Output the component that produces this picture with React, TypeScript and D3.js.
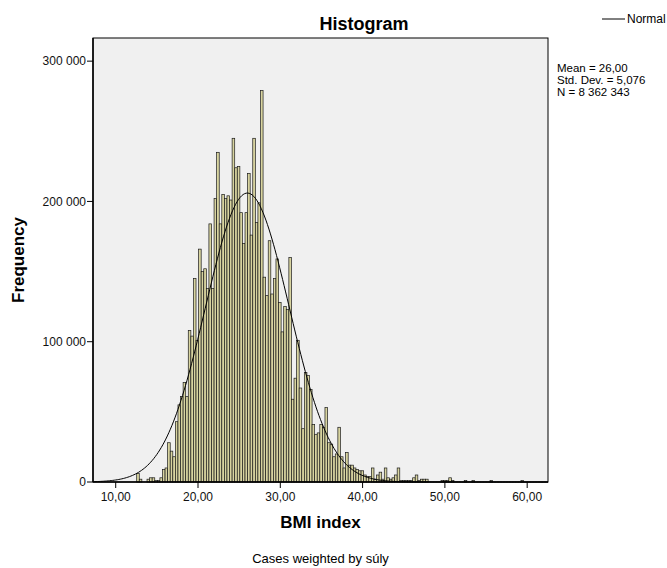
import * as d3 from "d3";

// histogram bins (BMI), counts in thousands
const BIN_START = 12.55;
const BIN_WIDTH = 0.3134;
const COUNTS_K = [
  6, 2, 0, 0, 2, 3, 3, 1, 1, 3,
  9, 10, 28, 22, 18, 43, 55, 61, 71, 61,
  108, 104, 145, 101, 166, 150, 152, 138, 184, 138,
  202, 235, 184, 205, 202, 204, 201, 245, 224, 225,
  192, 170, 192, 220, 176, 245, 185, 199, 279, 146,
  133, 172, 134, 145, 159, 128, 107, 125, 123, 160,
  59, 74, 101, 67, 38, 78, 76, 66, 41, 34,
  35, 41, 39, 53, 28, 27, 18, 20, 39, 18,
  10, 21, 12, 12, 10, 9, 8, 8, 5, 4,
  4, 10, 2, 5, 7, 2, 10, 3, 2, 3,
  5, 10, 1, 1, 1, 1, 1, 3, 5, 1,
  2, 2, 2, 0, 0, 0, 0, 0, 1, 1,
  1, 3, 1, 0, 0, 0, 0, 1, 0, 0,
  1, 0, 0, 0, 0, 0, 0, 1, 0, 0,
  0, 0, 0, 0, 0, 0, 0, 0, 0, 1,
];

const X_TICKS = [10, 20, 30, 40, 50, 60];
const Y_TICKS = [0, 100000, 200000, 300000];

const MEAN = 26.0;
const SD = 5.076;
const N = 8362343;
const STATS = ["Mean = 26,00", "Std. Dev. = 5,076", "N = 8 362 343"];

const W = 667;
const H = 568;
const PLOT = { left: 93, right: 548, top: 38, bottom: 482 };
const FONT = "Arial, 'Liberation Sans', sans-serif";

const huLocale = d3.formatLocale({
  decimal: ",",
  thousands: "\u00a0",
  grouping: [3],
  currency: ["", ""],
});

export default function App() {
  const x = d3.scaleLinear().domain([7.24, 62.53]).range([PLOT.left, PLOT.right]);
  const y = d3.scaleLinear().domain([0, 316500]).range([PLOT.bottom, PLOT.top]);

  const bins = COUNTS_K.map((c, i) => ({
    x0: BIN_START + i * BIN_WIDTH,
    x1: BIN_START + (i + 1) * BIN_WIDTH,
    v: c * 1000,
  })).filter((b) => b.v > 0);

  // fitted normal curve
  const [d0, d1] = x.domain();
  const curvePts = d3.range(0, 301).map((k) => {
    const v = d0 + ((d1 - d0) * k) / 300;
    const dens =
      (N * BIN_WIDTH) / (SD * Math.sqrt(2 * Math.PI)) *
      Math.exp(-((v - MEAN) ** 2) / (2 * SD * SD));
    return [v, dens] as [number, number];
  });
  const line = d3
    .line<[number, number]>()
    .x((d) => x(d[0]))
    .y((d) => y(d[1]));

  const fmtX = huLocale.format(".2f");
  const fmtY = huLocale.format(",d");

  return (
    <svg
      width={W}
      height={H}
      style={{ position: "absolute", left: 0, top: 0, background: "#fff" }}
      fontFamily={FONT}
    >
      <rect
        x={PLOT.left}
        y={PLOT.top}
        width={PLOT.right - PLOT.left}
        height={PLOT.bottom - PLOT.top}
        fill="#f0f0f0"
      />
      <g>
        {bins.map((b, i) => (
          <rect
            key={i}
            x={x(b.x0)}
            y={y(b.v)}
            width={x(b.x1) - x(b.x0)}
            height={y(0) - y(b.v)}
            fill="#d8d4a0"
            stroke="#1a1a1a"
            strokeWidth={0.7}
          />
        ))}
      </g>
      <path d={line(curvePts) ?? ""} fill="none" stroke="#000" strokeWidth={1} />
      <rect
        x={PLOT.left}
        y={PLOT.top}
        width={PLOT.right - PLOT.left}
        height={PLOT.bottom - PLOT.top}
        fill="none"
        stroke="#000"
        strokeWidth={1}
      />
      {/* x axis */}
      <line x1={PLOT.left} x2={PLOT.right} y1={PLOT.bottom} y2={PLOT.bottom} stroke="#000" strokeWidth={1.5} />
      {X_TICKS.map((t) => (
        <g key={t} transform={`translate(${x(t)},${PLOT.bottom})`}>
          <line y1={0} y2={6} stroke="#000" />
          <text y={19} textAnchor="middle" fontSize={12} fill="#111">
            {fmtX(t)}
          </text>
        </g>
      ))}
      {/* y axis */}
      <line x1={PLOT.left} x2={PLOT.left} y1={PLOT.top} y2={PLOT.bottom} stroke="#000" strokeWidth={1.5} />
      {Y_TICKS.map((t) => (
        <g key={t} transform={`translate(${PLOT.left},${y(t)})`}>
          <line x1={-6} x2={0} stroke="#000" />
          <text x={-7} dy="0.35em" textAnchor="end" fontSize={12} fill="#111">
            {fmtY(t)}
          </text>
        </g>
      ))}
      <text x={364} y={30} textAnchor="middle" fontSize={18} fontWeight="bold">
        Histogram
      </text>
      <text
        transform={`translate(24,${(PLOT.top + PLOT.bottom) / 2}) rotate(-90)`}
        textAnchor="middle"
        fontSize={17}
        fontWeight="bold"
      >
        Frequency
      </text>
      <text x={(PLOT.left + PLOT.right) / 2} y={528} textAnchor="middle" fontSize={17} fontWeight="bold">
        BMI index
      </text>
      <text x={(PLOT.left + PLOT.right) / 2} y={563} textAnchor="middle" fontSize={13}>
        Cases weighted by súly
      </text>
      <line x1={602} x2={625} y1={19} y2={19} stroke="#000" />
      <text x={627} y={23} fontSize={12}>
        Normal
      </text>
      {STATS.map((s, i) => (
        <text key={s} x={557} y={72 + i * 12} fontSize={11.5}>
          {s}
        </text>
      ))}
    </svg>
  );
}
